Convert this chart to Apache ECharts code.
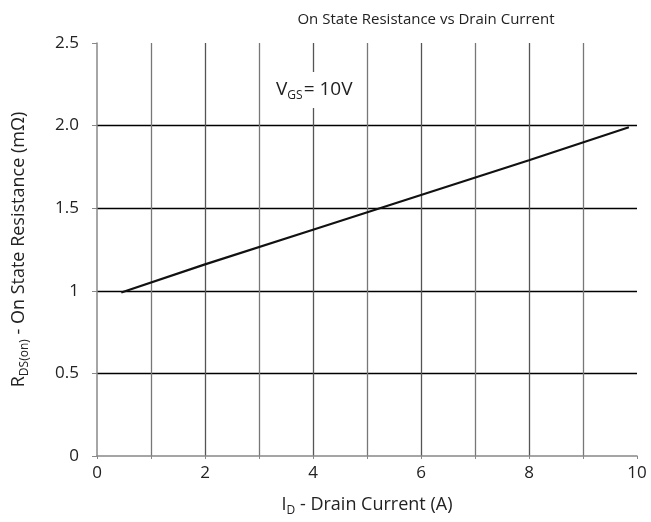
<!DOCTYPE html>
<html>
<head>
<meta charset="utf-8">
<script src="https://cdn.jsdelivr.net/npm/echarts@6/dist/echarts.min.js"></script>
<style>
  html, body { margin: 0; padding: 0; background: #fff; }
  #main { width: 651px; height: 522px; }
</style>
</head>
<body>
<div id="main"></div>
<script>
// drain current (A) vs on state resistance (mOhm)
const currentA = [0.45, 2, 4, 6, 8, 9.85];
const resistance = [0.99, 1.16, 1.37, 1.58, 1.79, 1.99];
const yTickLabels = ['0', '0.5', '1', '1.5', '2.0', '2.5'];
const xTickLabels = ['0', '', '2', '', '4', '', '6', '', '8', '', '10'];

const chart = echarts.init(document.getElementById('main'));
const font = 'Open Sans';

const option = {
    animation: false,
    backgroundColor: '#fff',
    title: {
        text: 'On State Resistance vs Drain Current',
        left: 421,
        textAlign: 'center',
        top: 7,
        textStyle: {fontFamily: font, fontSize: 15, fontWeight: 'normal', color: '#222'}
    },
    grid: {left: 97, right: 14, top: 43, bottom: 66, outerBoundsMode: 'none'},
    xAxis: {
        type: 'value',
        min: 0, max: 10, interval: 1,
        name: '{n|I}{s|D}{n| - Drain Current (A)}',
        nameLocation: 'middle',
        nameGap: 37,
        nameTextStyle: {
            rich: {
                n: {fontFamily: font, fontSize: 18, color: '#222'},
                s: {fontFamily: font, fontSize: 12, color: '#222', padding: [12, 0, 0, 0]}
            }
        },
        axisLine: {show: true, lineStyle: {color: '#888', width: 1.5}},
        axisTick: {show: true, length: 3, lineStyle: {color: '#888'}},
        axisLabel: {
            fontFamily: font, fontSize: 17, color: '#222', margin: 9,
            formatter: function (v) { return xTickLabels[Math.round(v)]; }
        },
        splitLine: {
            show: true, showMinLine: false, showMaxLine: false,
            lineStyle: {color: ['#777', '#555'], width: 1.3}
        }
    },
    yAxis: {
        type: 'value',
        min: 0, max: 2.5, interval: 0.5,
        name: '{n|R}{s|DS(on)}{n| - On State Resistance (mΩ)}',
        nameLocation: 'middle',
        nameGap: 66,
        nameTextStyle: {
            rich: {
                n: {fontFamily: font, fontSize: 18, color: '#222'},
                s: {fontFamily: font, fontSize: 12, color: '#222', padding: [12, 0, 0, 0]}
            }
        },
        axisLine: {show: true, lineStyle: {color: '#888', width: 1.5}},
        axisTick: {show: true, inside: false, length: 5, lineStyle: {color: '#888'}},
        axisLabel: {
            fontFamily: font, fontSize: 17, color: '#222', margin: 18,
            formatter: function (v) { return yTickLabels[Math.round(v * 2)]; }
        },
        splitLine: {
            show: true, showMinLine: false, showMaxLine: false,
            lineStyle: {color: '#000', width: 1.3}
        }
    },
    graphic: [{
        type: 'text',
        left: 268,
        top: 72,
        z: 10,
        style: {
            text: '{n|V}{s|GS}{n|= 10V}',
            backgroundColor: '#fff',
            padding: [6, 10, 6, 8],
            rich: {
                n: {fontFamily: font, fontSize: 19, fill: '#222'},
                s: {fontFamily: font, fontSize: 12, fill: '#222', padding: [12, 1, 0, 0]}
            }
        }
    }],
    series: [{
        type: 'line',
        data: currentA.map((x, i) => [x, resistance[i]]),
        symbol: 'none',
        smooth: false,
        lineStyle: {color: '#111', width: 2.2}
    }]
};

chart.setOption(option);
</script>
</body>
</html>
